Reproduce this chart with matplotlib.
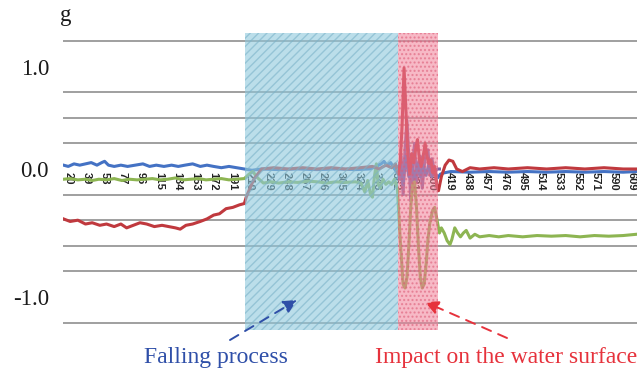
import matplotlib
matplotlib.use("Agg")
import matplotlib.pyplot as plt

# ---- data (sample index, acceleration in g) ----
red_pts = [(15,-0.39),(22,-0.41),(30,-0.40),(38,-0.43),(45,-0.42),(53,-0.44),(60,-0.43),(68,-0.45),
           (75,-0.43),(81,-0.46),(88,-0.44),(95,-0.42),(102,-0.43),(110,-0.45),(118,-0.44),(125,-0.45),
           (132,-0.46),(137,-0.47),(143,-0.44),(150,-0.43),(158,-0.41),(165,-0.39),(172,-0.36),(178,-0.35),
           (185,-0.31),(192,-0.30),(199,-0.28),(204,-0.27),(206,-0.22),(214,-0.08),(222,0.0),(235,0.01),
           (250,0.0),(265,0.01),(280,0.0),(295,0.01),(310,0.0),(325,0.01),(338,0.02),(345,0.0),(352,0.03),
           (358,0.01),(362,0.04),(365,-0.04),(367,0.05),(369,0.35),(371,0.79),(373,0.45),(375,0.1),
           (377,-0.04),(379,0.12),(381,0.05),(383,0.15),(385,0.23),(387,0.08),(389,0.02),(391,0.1),
           (393,0.2),(395,0.1),(397,0.04),(399,0.07),(401,-0.03),(403,0.02),(405,-0.12),(407,-0.17),
           (410,-0.06),(414,0.03),(418,0.07),(422,0.06),(426,0.0),(432,-0.02),(440,0.01),(450,0.0),
           (465,0.01),(480,0.0),(500,0.01),(520,0.0),(540,0.01),(560,0.0),(580,0.01),(600,0.0),(614,0.0)]

blue_pts = [(15,0.03),(20,0.02),(26,0.04),(32,0.03),(38,0.04),(44,0.05),(50,0.03),(55,0.05),(58,0.06),
            (62,0.03),(68,0.02),(75,0.03),(82,0.02),(90,0.03),(98,0.04),(105,0.02),(112,0.03),(120,0.02),
            (128,0.03),(135,0.02),(142,0.03),(150,0.04),(158,0.02),(165,0.03),(172,0.02),(180,0.01),
            (188,0.02),(196,0.01),(204,0.0),(212,-0.01),(222,0.0),(240,-0.005),(260,0.0),(280,-0.005),
            (300,0.0),(320,-0.005),(335,0.0),(342,0.02),(347,0.04),(350,0.06),(353,0.03),(357,0.05),
            (361,0.0),(364,-0.03),(367,0.05),(370,-0.12),(373,0.1),(376,-0.06),(379,0.06),(382,-0.1),
            (385,0.04),(388,-0.06),(391,0.03),(394,-0.05),(397,0.04),(400,-0.06),(403,-0.02),(406,-0.07),
            (409,-0.04),(413,-0.03),(420,-0.02),(440,-0.025),(460,-0.02),(480,-0.025),(500,-0.02),
            (520,-0.025),(540,-0.02),(560,-0.025),(580,-0.02),(600,-0.025),(614,-0.02)]

green_pts = [(15,-0.08),(22,-0.075),(30,-0.085),(38,-0.08),(45,-0.09),(52,-0.08),(60,-0.085),(68,-0.075),
             (76,-0.09),(84,-0.08),(92,-0.085),(100,-0.08),(108,-0.075),(116,-0.085),(124,-0.08),(132,-0.07),
             (140,-0.085),(148,-0.08),(156,-0.075),(164,-0.085),(172,-0.08),(180,-0.075),(188,-0.085),
             (196,-0.08),(204,-0.075),(209,-0.04),(213,-0.02),(218,-0.07),(224,-0.11),(232,-0.1),(240,-0.11),
             (250,-0.1),(260,-0.105),(270,-0.095),(280,-0.1),(290,-0.11),(300,-0.1),(310,-0.105),(320,-0.1),
             (326,-0.11),(330,-0.18),(333,-0.09),(336,-0.2),(338,-0.22),(340,-0.06),(342,0.04),(344,-0.12),
             (346,-0.15),(349,-0.08),(352,-0.12),(355,-0.1),(358,-0.12),(361,-0.08),(364,-0.15),(367,-0.55),
             (370,-0.9),(372,-0.93),(374,-0.85),(376,-0.6),(378,-0.3),(380,-0.12),(382,-0.1),(384,-0.3),
             (386,-0.6),(388,-0.85),(390,-0.93),(392,-0.9),(394,-0.75),(396,-0.55),(398,-0.42),(401,-0.32),
             (403,-0.3),(405,-0.38),(408,-0.5),(410,-0.46),(413,-0.5),(416,-0.56),(419,-0.59),(421,-0.55),
             (424,-0.46),(427,-0.5),(430,-0.53),(433,-0.5),(436,-0.48),(440,-0.54),(445,-0.51),(450,-0.53),
             (460,-0.52),(470,-0.53),(480,-0.52),(495,-0.53),(510,-0.52),(525,-0.525),(540,-0.52),
             (555,-0.53),(570,-0.52),(585,-0.525),(600,-0.52),(614,-0.51)]

purple_pts = [(362,0.0),(364,0.02),(366,-0.08),(368,0.1),(370,-0.2),(372,0.15),(374,0.38),(376,0.1),
              (378,-0.25),(380,0.05),(382,0.2),(384,-0.1),(386,0.05),(388,0.1),(390,-0.15),(392,0.02),
              (394,0.12),(396,0.15),(398,-0.05),(400,0.08),(403,-0.02),(406,0.0),(408,0.0)]

xtick_pos = [20, 39, 58, 77, 96, 115, 134, 153, 172, 191, 210, 229, 248, 267, 286, 305, 324, 343, 362,
             381, 400, 419, 438, 457, 476, 495, 514, 533, 552, 571, 590, 609]
xtick_labels = [str(v) for v in xtick_pos]
grid_vals = [-1.2, -1.0, -0.8, -0.6, -0.4, -0.2, 0.0, 0.2, 0.4, 0.6, 0.8, 1.0]
ytick_pos = [0.8, 0.0, -1.0]
ytick_labels = ["1.0", "0.0", "-1.0"]
falling_span = (205, 364.5)
impact_span = (364.5, 407)

W, H = 637, 379
fig = plt.figure(figsize=(W / 100, H / 100), dpi=100)
ax = fig.add_axes([63 / W, 49 / H, 574 / W, 297 / H])

def unzip(pts):
    return [p[0] for p in pts], [p[1] for p in pts]

for pts, col in [(purple_pts, "#8064A2"), (blue_pts, "#4472C4"),
                 (green_pts, "#8DB552"), (red_pts, "#C0393E")]:
    xs, ys = unzip(pts)
    ax.plot(xs, ys, color=col, lw=2.2, zorder=2, solid_joinstyle="round")

ax.axvspan(*falling_span, facecolor="#8fc9dc", edgecolor="#7cb3c9", hatch="////",
           alpha=0.6, lw=0, zorder=3)
ax.axvspan(*impact_span, facecolor="#f28098", edgecolor="#dc5a76", hatch="....",
           alpha=0.55, lw=0, zorder=3)

ax.set_xlim(14.5, 614.5)
ax.set_ylim(-1.258, 1.0625)
for s in ax.spines.values():
    s.set_color("none")
ax.spines["bottom"].set_position(("data", 0))

ax.set_yticks(grid_vals, minor=True)
ax.grid(which="minor", axis="y", color="#8f8f8f", lw=1.2)
ax.tick_params(axis="y", which="minor", length=0)
ax.set_axisbelow(True)
ax.set_yticks(ytick_pos, ytick_labels)
ax.tick_params(axis="y", which="major", length=0, pad=10)
for t in ax.get_yticklabels():
    t.set_fontfamily("Liberation Serif")
    t.set_fontsize(16.5)
    t.set_color("#1a1a1a")

ax.set_xticks(xtick_pos, xtick_labels)
ax.tick_params(axis="x", length=0, pad=2)
for t in ax.get_xticklabels():
    t.set_rotation(-90)
    t.set_fontfamily("Liberation Sans")
    t.set_fontweight("bold")
    t.set_fontsize(8)
    t.set_color("#222222")
    t.set_ha("center")
    t.set_va("top")

fig.text(66 / W, 1 - 16 / H, "g", family="Liberation Serif", fontsize=16.5,
         ha="center", va="center", color="#1a1a1a")

blue_txt = "#2f4fa8"
red_txt = "#e6323c"
fig.text(216 / W, 1 - 358 / H, "Falling process", family="Liberation Serif",
         fontsize=17, color=blue_txt, ha="center", va="center")
fig.text(375 / W, 1 - 358 / H, "Impact on the water surface", family="Liberation Serif",
         fontsize=17, color=red_txt, ha="left", va="center")

def arrow(tail, head, col):
    ax.annotate("", xy=(head[0] / W, 1 - head[1] / H), xycoords="figure fraction",
                xytext=(tail[0] / W, 1 - tail[1] / H), textcoords="figure fraction",
                arrowprops=dict(arrowstyle="-|>", color=col, lw=1.4, linestyle=(0, (5, 4)),
                                mutation_scale=20, shrinkA=0, shrinkB=0),
                annotation_clip=False)

arrow((230, 340), (297, 300), blue_txt)
arrow((507, 338), (425, 302), red_txt)

fig.savefig("out.png", dpi=100)
